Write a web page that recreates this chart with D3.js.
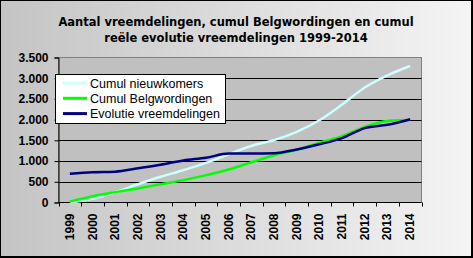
<!DOCTYPE html>
<html>
<head>
<meta charset="utf-8">
<script src="https://cdn.jsdelivr.net/npm/d3@7"></script>
<style>
  body { margin: 0; }
  svg { display: block; }
</style>
</head>
<body>
<script>
// chart data
var years = ["1999","2000","2001","2002","2003","2004","2005","2006","2007","2008","2009","2010","2011","2012","2013","2014"]
var nieuwkomers = [5, 90, 250, 440, 620, 780, 955, 1165, 1365, 1505, 1705, 1985, 2365, 2775, 3070, 3295]
var belgwordingen = [20, 150, 250, 340, 440, 540, 660, 795, 970, 1140, 1275, 1440, 1600, 1825, 1970, 1990]
var evolutie = [695, 730, 745, 825, 910, 1015, 1080, 1180, 1180, 1190, 1280, 1405, 1555, 1795, 1875, 2010]
var yTicks = [0, 500, 1000, 1500, 2000, 2500, 3000, 3500]
var seriesNames = ["Cumul nieuwkomers", "Cumul Belgwordingen", "Evolutie vreemdelingen"]
var seriesColors = ["#ccffff", "#00ff00", "#000080"]

var outerWidth = 473,
    outerHeight = 258,
    plot = {left: 58.5, right: 421.5, top: 57.5, bottom: 202.5};

var svg = d3.select("body").append("svg")
    .attr("width", outerWidth)
    .attr("height", outerHeight)

var defs = svg.append("defs")
var grad = defs.append("linearGradient")
    .attr("id", "bg")
    .attr("x1", "0").attr("y1", "0")
    .attr("x2", "1").attr("y2", "0")
grad.append("stop").attr("offset", "0").attr("stop-color", "#c4c4c4")
grad.append("stop").attr("offset", "1").attr("stop-color", "#f4f4f4")

// chart background + border
svg.append("rect")
    .attr("x", 0).attr("y", 0)
    .attr("width", outerWidth).attr("height", outerHeight)
    .attr("fill", "#000")
svg.append("rect")
    .attr("x", 1).attr("y", 1)
    .attr("width", outerWidth - 3).attr("height", outerHeight - 3)
    .attr("fill", "url(#bg)")

// title
var title = svg.append("text")
    .attr("text-anchor", "middle")
    .style("font-family", "'DejaVu Sans', Verdana, sans-serif")
    .style("font-weight", "bold")
    .style("font-size", "11.5px")
    .attr("fill", "#000")
title.append("tspan").attr("x", 236).attr("y", 26)
    .text("Aantal vreemdelingen, cumul Belgwordingen en cumul")
title.append("tspan").attr("x", 236).attr("y", 42)
    .text("reële evolutie vreemdelingen 1999-2014")

var xScale = d3.scaleBand()
    .domain(years)
    .range([plot.left, plot.right])

var yScale = d3.scaleLinear()
    .domain([0, 3500])
    .range([plot.bottom, plot.top])

// plot area
svg.append("rect")
    .attr("x", plot.left).attr("y", plot.top)
    .attr("width", plot.right - plot.left)
    .attr("height", plot.bottom - plot.top)
    .attr("fill", "#c0c0c0")
    .attr("stroke", "#808080")
    .attr("stroke-width", 1)

// gridlines
svg.append("g")
    .selectAll("line")
    .data(yTicks.slice(1, -1))
    .enter()
    .append("line")
    .attr("x1", plot.left).attr("x2", plot.right)
    .attr("y1", function(d) { return Math.round(yScale(d)) + 0.5 })
    .attr("y2", function(d) { return Math.round(yScale(d)) + 0.5 })
    .attr("stroke", "#000")

var fmt = function(d) { return d3.format(",")(d).replace(/,/g, ".") }

var yAxis = d3.axisLeft(yScale)
    .tickValues(yTicks)
    .tickFormat(fmt)
    .tickSize(4)
    .tickPadding(6)

var gy = svg.append("g")
    .attr("transform", "translate(" + plot.left + ",0)")
    .call(yAxis)
gy.select(".domain").attr("stroke", "#000")
gy.selectAll("text")
    .style("font-family", "'Liberation Sans', Arial, sans-serif")
    .style("font-weight", "bold")
    .style("font-size", "12px")
    .attr("fill", "#000")

// x axis: ticks between categories
var xTickPos = years.map(function(y) { return xScale(y) }).concat([plot.right])
var gx = svg.append("g")
gx.append("line")
    .attr("x1", plot.left).attr("x2", plot.right)
    .attr("y1", plot.bottom).attr("y2", plot.bottom)
    .attr("stroke", "#000")
gx.selectAll(".tick")
    .data(xTickPos)
    .enter()
    .append("line")
    .attr("x1", function(d) { return Math.round(d) + 0.5 })
    .attr("x2", function(d) { return Math.round(d) + 0.5 })
    .attr("y1", plot.bottom).attr("y2", plot.bottom + 4)
    .attr("stroke", "#000")
gx.selectAll("text")
    .data(years)
    .enter()
    .append("text")
    .attr("transform", function(d) {
      return "translate(" + (xScale(d) + xScale.bandwidth() / 2 + 4) + "," + (plot.bottom + 11) + ") rotate(-90)"
    })
    .attr("text-anchor", "end")
    .style("font-family", "'Liberation Sans', Arial, sans-serif")
    .style("font-weight", "bold")
    .style("font-size", "12px")
    .attr("fill", "#000")
    .text(function(d) { return d })

// lines
var line = d3.line()
    .x(function(d, i) { return xScale(years[i]) + xScale.bandwidth() / 2 })
    .y(function(d) { return yScale(d) })
    .curve(d3.curveMonotoneX)

var allSeries = [nieuwkomers, belgwordingen, evolutie]
svg.append("g")
    .selectAll("path")
    .data(allSeries)
    .enter()
    .append("path")
    .attr("d", line)
    .attr("fill", "none")
    .attr("stroke", function(d, i) { return seriesColors[i] })
    .attr("stroke-width", 2.5)

// legend
var legend = svg.append("g")
legend.append("rect")
    .attr("x", 55.5).attr("y", 74.5)
    .attr("width", 170).attr("height", 49)
    .attr("fill", "#fff")
    .attr("stroke", "#000")

var rows = legend.selectAll(".row")
    .data(seriesNames)
    .enter()
    .append("g")
    .attr("transform", function(d, i) { return "translate(0," + (83 + i * 15.3) + ")" })
rows.append("line")
    .attr("x1", 63).attr("x2", 87)
    .attr("y1", 0).attr("y2", 0)
    .attr("stroke", function(d, i) { return seriesColors[i] })
    .attr("stroke-width", 3)
rows.append("text")
    .attr("x", 90)
    .attr("y", 4.5)
    .style("font-family", "'Liberation Sans', Arial, sans-serif")
    .style("font-size", "12.5px")
    .attr("fill", "#000")
    .text(function(d) { return d })
</script>
</body>
</html>
